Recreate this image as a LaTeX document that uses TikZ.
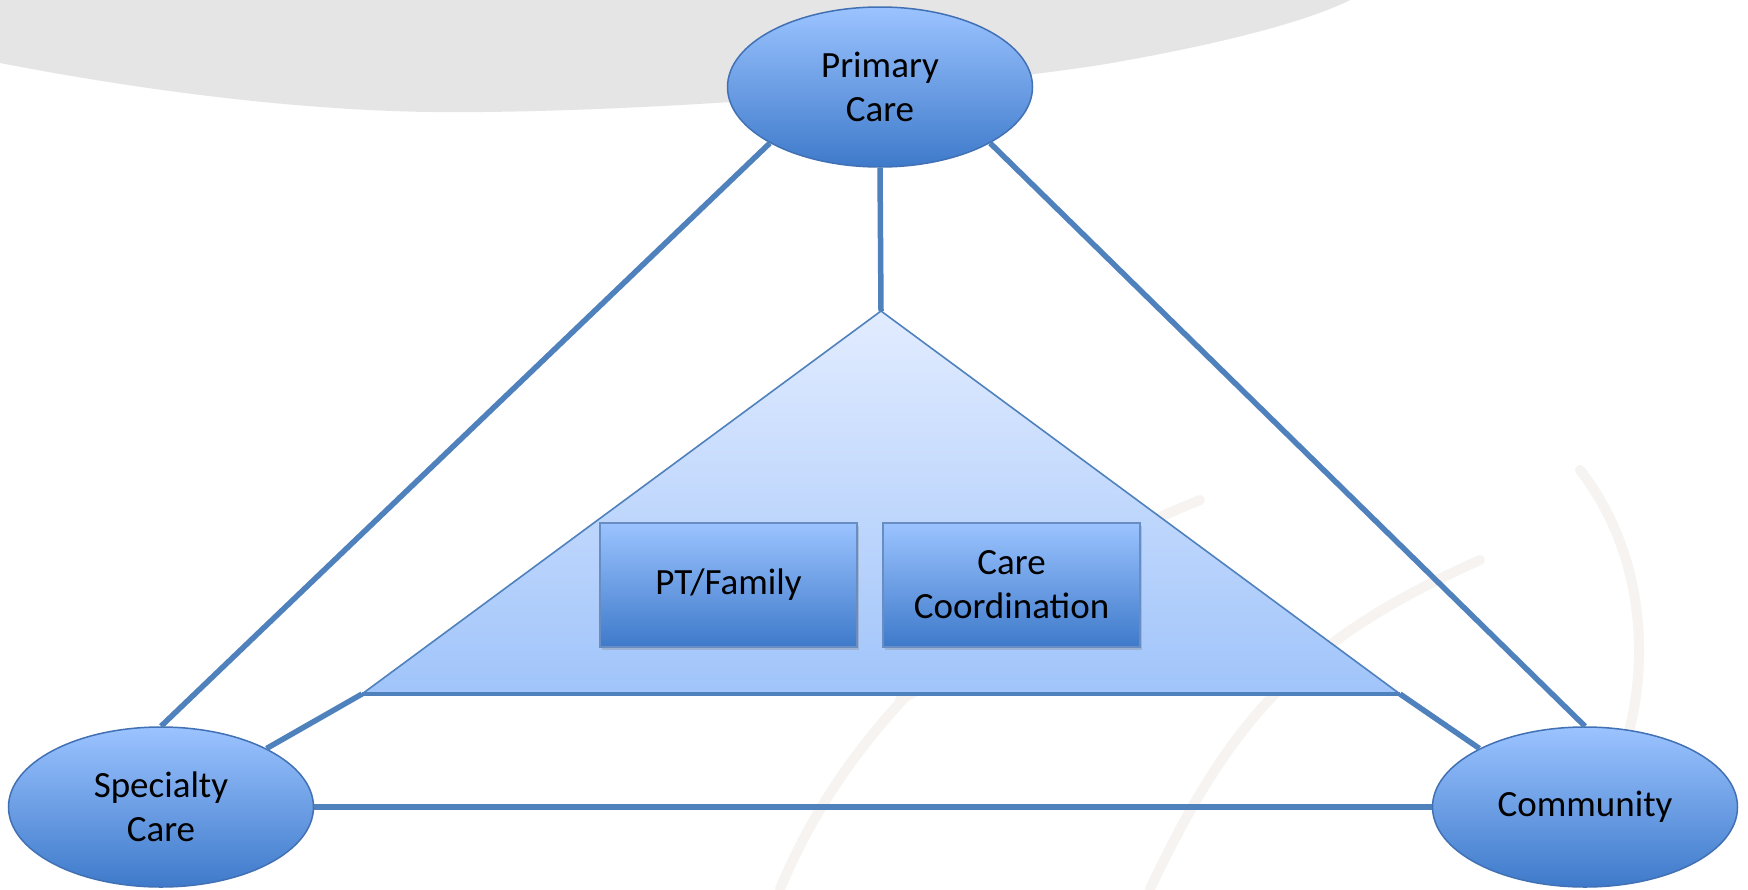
\documentclass[tikz,border=0pt]{standalone}
\usepackage{fontspec}
\setmainfont{Carlito}
\usetikzlibrary{shapes.geometric,shadows}
\definecolor{bgarc}{RGB}{230,229,230}
\definecolor{linec}{RGB}{79,129,189}
\definecolor{edgec}{RGB}{65,113,180}
\definecolor{ftop}{RGB}{155,195,255}
\definecolor{fbot}{RGB}{62,122,202}
\definecolor{ttop}{RGB}{226,236,255}
\definecolor{tbot}{RGB}{160,196,250}
\definecolor{wm}{RGB}{246,243,240}
\tikzset{
  ovalnode/.style={ellipse, draw=edgec, line width=1.5pt, top color=ftop, bottom color=fbot,
    minimum width=305, minimum height=160, inner sep=0pt, align=center,
    font=\fontsize{37}{44}\selectfont},
  boxnode/.style={rectangle, draw=edgec!80, line width=1.2pt, top color=ftop, bottom color=fbot,
    minimum width=257, minimum height=124, inner sep=0pt, align=center,
    font=\fontsize{37}{44}\selectfont,
    drop shadow={opacity=0.3, shadow xshift=2pt, shadow yshift=-3pt}},
  link/.style={draw=linec, line width=5.5pt},
  wmline/.style={draw=wm, line width=10pt, line cap=round}
}
\begin{document}
\begin{tikzpicture}[x=1pt,y=-1pt]
\useasboundingbox (0,0) rectangle (1748,889);
\fill[white] (0,0) rectangle (1748,889);
% gray background arc
\fill[bgarc] (0,0) -- (0,63) .. controls (150,92) and (300,110) .. (430,112)
  .. controls (600,114) and (900,95) .. (1100,65)
  .. controls (1200,48) and (1300,25) .. (1350,0) -- cycle;
% watermark swirls
\draw[wmline] (780,889) .. controls (850,720) and (1000,580) .. (1200,500);
\draw[wmline] (1150,889) .. controls (1230,720) and (1300,640) .. (1480,560);
\draw[wmline] (1580,470) .. controls (1650,560) and (1650,680) .. (1620,760);
\draw[wmline] (900,700) .. controls (1000,640) and (1150,620) .. (1300,640);
% nodes
\node[ovalnode] (pc) at (880,87) {Primary\\Care};
\node[ovalnode] (sc) at (161,807) {Specialty\\Care};
\node[ovalnode] (cm) at (1585,807) {Community};
\coordinate (apex) at (881,311);
\coordinate (bl) at (362,694);
\coordinate (br) at (1400,694);
% outer connectors
\draw[link] (pc.207.6) -- (sc.north);
\draw[link] (pc.-27.2) -- (cm.north);
\draw[link] (pc.south) -- (apex);
\draw[link] (sc.29) -- (bl);
\draw[link] (cm.151) -- (br);
\draw[link] (sc.east) -- (cm.west);
% inner triangle
\path[top color=ttop, bottom color=tbot] (apex) -- (br) -- (bl) -- cycle;
\draw[draw=linec, line width=1.6pt, line join=miter] (bl) -- (apex) -- (br);
\draw[draw=linec, line width=3.5pt] (bl) -- (br);
% boxes
\node[boxnode] (pt) at (728.5,585) {PT/Family};
\node[boxnode] (cc) at (1011.5,585) {Care\\Coordination};
\end{tikzpicture}
\end{document}
